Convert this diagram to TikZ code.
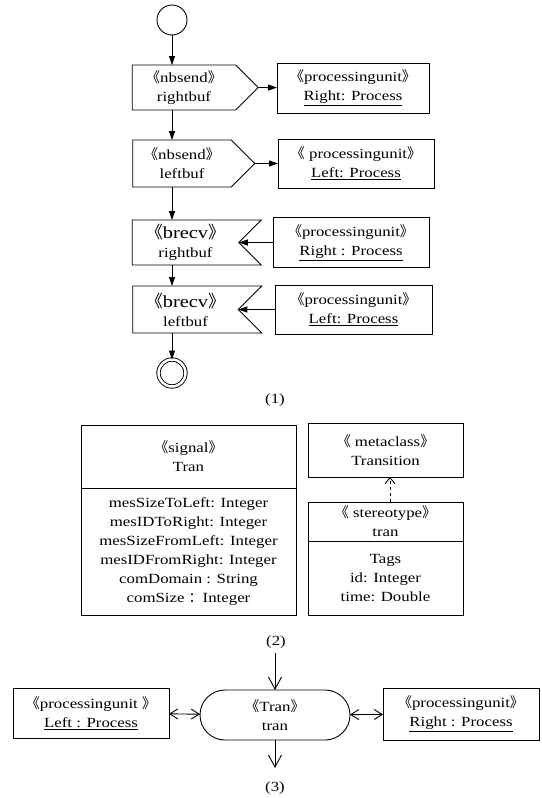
\documentclass[tikz,border=0pt]{standalone}
\usepackage{fontspec}
\setmainfont{Liberation Serif}[FakeStretch=1.2]
\newfontfamily\cjk{Noto Sans CJK SC}
\usetikzlibrary{shapes.symbols,arrows.meta}
\newcommand{\stereo}[1]{{\cjk 《}#1{\cjk 》}}

\begin{document}
\begin{tikzpicture}[x=1pt,y=-1pt,line width=0.9pt,
		font=\fontsize{14}{19}\selectfont,
		every node/.style={align=center,inner sep=0pt,outer sep=0pt},
		sendbox/.style={draw,signal,signal to=east,signal pointer angle=90,minimum height=#1},
		recvbox/.style={draw,signal,signal to=nowhere,signal from=east,signal pointer angle=90,minimum height=#1},
		unit/.style={draw,minimum height=#1},
		flow/.style={-{Triangle[length=9pt,width=6pt]}},
		open/.style={-{Straight Barb[length=12pt,width=13pt]}},
		both/.style={{Straight Barb[length=8pt,width=10pt]}-{Straight Barb[length=8pt,width=10pt]}}]
		\useasboundingbox (0,0) rectangle (541,798);

		\node[draw,circle,minimum size=30pt] (start) at (172,20) {};
		\node[sendbox=45pt,minimum width=126pt] (sendR) at (184,87.5) {\stereo{nbsend}\\rightbuf};
		\node[sendbox=47pt,minimum width=122pt] (sendL) at (182,163.5) {\stereo{nbsend}\\leftbuf};
		\node[recvbox=45pt,minimum width=129pt] (recvR) at (185.5,242.5) {{\fontsize{17}{19}\selectfont\stereo{brecv}}\\rightbuf};
		\node[recvbox=47pt,minimum width=129pt] (recvL) at (185.5,309.5) {{\fontsize{17}{19}\selectfont\stereo{brecv}}\\leftbuf};
		\node[draw,circle,double,double distance=2.5pt,minimum size=27pt] (stop) at (172,373) {};

		\node[unit=50pt,minimum width=152pt] (puR1) at (353,88) {\stereo{processingunit}\\\underline{Right: Process}};
		\node[unit=49pt,minimum width=156pt] (puL1) at (356,163.5) {\stereo{ processingunit}\\\underline{Left: Process}};
		\node[unit=50pt,minimum width=156pt] (puR2) at (351,242.5) {\stereo{processingunit}\\\underline{Right : Process}};
		\node[unit=49pt,minimum width=157pt] (puL2) at (353.5,309.5) {\stereo{processingunit}\\\underline{Left: Process}};

		\draw[flow] (start) -- (start |- sendR.north);
		\draw[flow] (start |- sendR.south) -- (start |- sendL.north);
		\draw[flow] (start |- sendL.south) -- (start |- recvR.north);
		\draw[flow] (start |- recvR.south) -- (start |- recvL.north);
		\draw[flow] (start |- recvL.south) -- (stop);
		\draw[flow] (sendR.east) -- (puR1);
		\draw[flow] (sendL.east) -- (puL1);
		\draw[flow] (puR2) -- (recvR.east);
		\draw[flow] (puL2) -- (recvL.east);
		\node (cap1) at (275,400) {(1)};

		\node[unit=63pt,minimum width=215pt] (sigHead) at (188.5,456.5) {\stereo{signal}\\Tran};
		\node[unit=127pt,minimum width=215pt,anchor=north] (sigBody) at (sigHead.south) {mesSizeToLeft: Integer\\mesIDToRight: Integer\\mesSizeFromLeft: Integer\\mesIDFromRight: Integer\\comDomain : String\\comSize {\cjk ：}Integer};
		\node[unit=54pt,minimum width=155pt] (meta) at (385.5,450) {\stereo{ metaclass}\\Transition};
		\node[unit=39pt,minimum width=155pt] (stHead) at (385.5,521.5) {\stereo{ stereotype}\\tran};
		\node[unit=74pt,minimum width=155pt,anchor=north] (stBody) at (stHead.south) {Tags\\id: Integer\\time: Double};
		\coordinate (ext) at (390,0);
		\draw[dashed,-{Straight Barb[length=6pt,width=10pt]}] (stHead.north -| ext) -- (meta.south -| ext);
		\node (cap2) at (276,642) {(2)};

		\node[unit=50pt,minimum width=156pt] (puL3) at (91,713) {\stereo{processingunit }\\\underline{Left : Process}};
		\node[draw,rounded corners=25pt,minimum width=150pt,minimum height=50pt] (tran) at (275,715) {\stereo{Tran}\\tran};
		\node[unit=52pt,minimum width=156pt] (puR3) at (461,714) {\stereo{processingunit}\\\underline{Right : Process}};
		\coordinate (inflow) at (275,653);
		\coordinate (outflow) at (275,768);
		\draw[open] (inflow) -- (tran);
		\draw[open] (tran) -- (outflow);
		\draw[both] (puL3) -- (tran);
		\draw[both] (tran) -- (puR3);
		\node (cap3) at (275,788) {(3)};
\end{tikzpicture}
\end{document}
